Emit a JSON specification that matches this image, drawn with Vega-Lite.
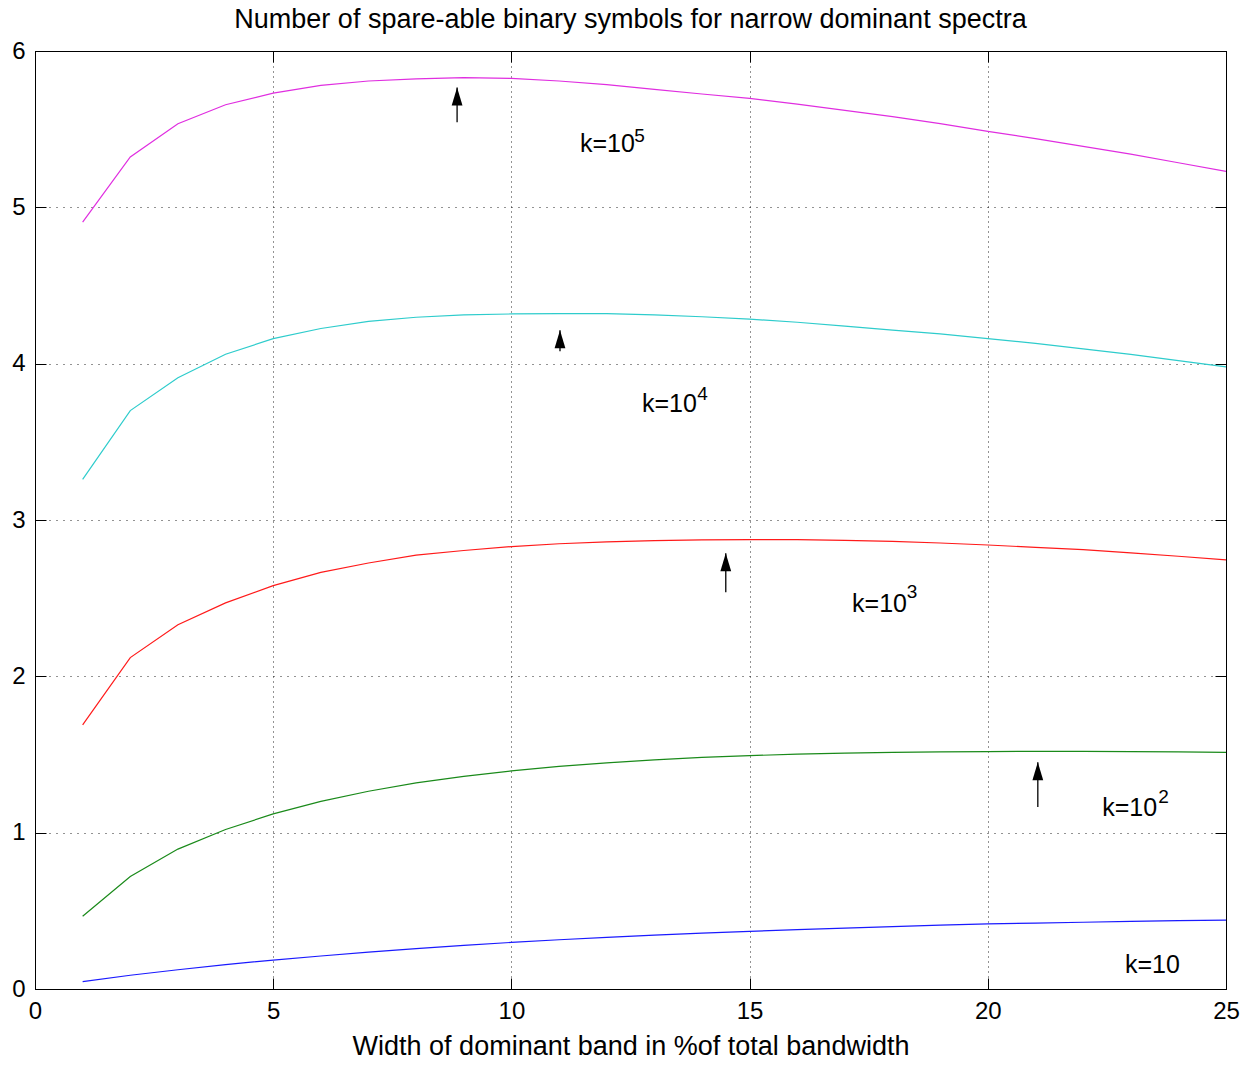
{
  "$schema": "https://vega.github.io/schema/vega-lite/v6.json",
  "width": 1191,
  "height": 938,
  "autosize": {"type": "none"},
  "padding": {"left": 35, "top": 51, "right": 23, "bottom": 76},
  "background": "white",
  "title": {
    "text": "Number of spare-able binary symbols for narrow dominant spectra",
    "font": "Liberation Sans",
    "fontSize": 27,
    "fontWeight": "normal",
    "color": "black",
    "anchor": "middle",
    "frame": "group",
    "baseline": "alphabetic",
    "offset": 0,
    "dy": 16
  },
  "config": {
    "view": {"stroke": "black", "strokeWidth": 1},
    "axis": {
      "labelFont": "Liberation Sans",
      "labelFontSize": 24,
      "labelColor": "black",
      "titleFont": "Liberation Sans",
      "titleFontSize": 27,
      "titleFontWeight": "normal",
      "titleColor": "black",
      "tickColor": "black",
      "domainColor": "black",
      "gridColor": "black",
      "gridOpacity": 0.85,
      "labelFlush": false,
      "labelOverlap": false
    }
  },
  "datasets": {
    "curves": [
      {"x": 1, "y": 4.906, "k": "k5"}, {"x": 2, "y": 5.322, "k": "k5"}, {"x": 3, "y": 5.535, "k": "k5"}, {"x": 4, "y": 5.656, "k": "k5"}, {"x": 5, "y": 5.731, "k": "k5"},
      {"x": 6, "y": 5.78, "k": "k5"}, {"x": 7, "y": 5.808, "k": "k5"}, {"x": 8, "y": 5.822, "k": "k5"}, {"x": 9, "y": 5.83, "k": "k5"}, {"x": 10, "y": 5.825, "k": "k5"},
      {"x": 11, "y": 5.808, "k": "k5"}, {"x": 12, "y": 5.785, "k": "k5"}, {"x": 13, "y": 5.755, "k": "k5"}, {"x": 14, "y": 5.725, "k": "k5"}, {"x": 15, "y": 5.697, "k": "k5"},
      {"x": 16, "y": 5.66, "k": "k5"}, {"x": 17, "y": 5.62, "k": "k5"}, {"x": 18, "y": 5.58, "k": "k5"}, {"x": 19, "y": 5.535, "k": "k5"}, {"x": 20, "y": 5.486, "k": "k5"},
      {"x": 21, "y": 5.44, "k": "k5"}, {"x": 22, "y": 5.39, "k": "k5"}, {"x": 23, "y": 5.34, "k": "k5"}, {"x": 24, "y": 5.285, "k": "k5"}, {"x": 25, "y": 5.23, "k": "k5"},

      {"x": 1, "y": 3.26, "k": "k4"}, {"x": 2, "y": 3.7, "k": "k4"}, {"x": 3, "y": 3.91, "k": "k4"}, {"x": 4, "y": 4.06, "k": "k4"}, {"x": 5, "y": 4.16, "k": "k4"},
      {"x": 6, "y": 4.225, "k": "k4"}, {"x": 7, "y": 4.27, "k": "k4"}, {"x": 8, "y": 4.297, "k": "k4"}, {"x": 9, "y": 4.312, "k": "k4"}, {"x": 10, "y": 4.318, "k": "k4"},
      {"x": 11, "y": 4.32, "k": "k4"}, {"x": 12, "y": 4.32, "k": "k4"}, {"x": 13, "y": 4.312, "k": "k4"}, {"x": 14, "y": 4.3, "k": "k4"}, {"x": 15, "y": 4.285, "k": "k4"},
      {"x": 16, "y": 4.265, "k": "k4"}, {"x": 17, "y": 4.24, "k": "k4"}, {"x": 18, "y": 4.215, "k": "k4"}, {"x": 19, "y": 4.19, "k": "k4"}, {"x": 20, "y": 4.16, "k": "k4"},
      {"x": 21, "y": 4.13, "k": "k4"}, {"x": 22, "y": 4.095, "k": "k4"}, {"x": 23, "y": 4.06, "k": "k4"}, {"x": 24, "y": 4.02, "k": "k4"}, {"x": 25, "y": 3.98, "k": "k4"},

      {"x": 1, "y": 1.69, "k": "k3"}, {"x": 2, "y": 2.12, "k": "k3"}, {"x": 3, "y": 2.33, "k": "k3"}, {"x": 4, "y": 2.47, "k": "k3"}, {"x": 5, "y": 2.58, "k": "k3"},
      {"x": 6, "y": 2.665, "k": "k3"}, {"x": 7, "y": 2.725, "k": "k3"}, {"x": 8, "y": 2.775, "k": "k3"}, {"x": 9, "y": 2.805, "k": "k3"}, {"x": 10, "y": 2.83, "k": "k3"},
      {"x": 11, "y": 2.848, "k": "k3"}, {"x": 12, "y": 2.86, "k": "k3"}, {"x": 13, "y": 2.868, "k": "k3"}, {"x": 14, "y": 2.873, "k": "k3"}, {"x": 15, "y": 2.875, "k": "k3"},
      {"x": 16, "y": 2.874, "k": "k3"}, {"x": 17, "y": 2.87, "k": "k3"}, {"x": 18, "y": 2.863, "k": "k3"}, {"x": 19, "y": 2.853, "k": "k3"}, {"x": 20, "y": 2.84, "k": "k3"},
      {"x": 21, "y": 2.825, "k": "k3"}, {"x": 22, "y": 2.81, "k": "k3"}, {"x": 23, "y": 2.79, "k": "k3"}, {"x": 24, "y": 2.768, "k": "k3"}, {"x": 25, "y": 2.745, "k": "k3"},

      {"x": 1, "y": 0.465, "k": "k2"}, {"x": 2, "y": 0.72, "k": "k2"}, {"x": 3, "y": 0.895, "k": "k2"}, {"x": 4, "y": 1.02, "k": "k2"}, {"x": 5, "y": 1.12, "k": "k2"},
      {"x": 6, "y": 1.2, "k": "k2"}, {"x": 7, "y": 1.265, "k": "k2"}, {"x": 8, "y": 1.318, "k": "k2"}, {"x": 9, "y": 1.36, "k": "k2"}, {"x": 10, "y": 1.395, "k": "k2"},
      {"x": 11, "y": 1.424, "k": "k2"}, {"x": 12, "y": 1.447, "k": "k2"}, {"x": 13, "y": 1.466, "k": "k2"}, {"x": 14, "y": 1.481, "k": "k2"}, {"x": 15, "y": 1.493, "k": "k2"},
      {"x": 16, "y": 1.502, "k": "k2"}, {"x": 17, "y": 1.509, "k": "k2"}, {"x": 18, "y": 1.514, "k": "k2"}, {"x": 19, "y": 1.517, "k": "k2"}, {"x": 20, "y": 1.519, "k": "k2"},
      {"x": 21, "y": 1.52, "k": "k2"}, {"x": 22, "y": 1.52, "k": "k2"}, {"x": 23, "y": 1.519, "k": "k2"}, {"x": 24, "y": 1.517, "k": "k2"}, {"x": 25, "y": 1.514, "k": "k2"},

      {"x": 1, "y": 0.047, "k": "k1"}, {"x": 2, "y": 0.088, "k": "k1"}, {"x": 3, "y": 0.123, "k": "k1"}, {"x": 4, "y": 0.156, "k": "k1"}, {"x": 5, "y": 0.185, "k": "k1"},
      {"x": 6, "y": 0.211, "k": "k1"}, {"x": 7, "y": 0.236, "k": "k1"}, {"x": 8, "y": 0.258, "k": "k1"}, {"x": 9, "y": 0.279, "k": "k1"}, {"x": 10, "y": 0.298, "k": "k1"},
      {"x": 11, "y": 0.315, "k": "k1"}, {"x": 12, "y": 0.33, "k": "k1"}, {"x": 13, "y": 0.344, "k": "k1"}, {"x": 14, "y": 0.357, "k": "k1"}, {"x": 15, "y": 0.369, "k": "k1"},
      {"x": 16, "y": 0.38, "k": "k1"}, {"x": 17, "y": 0.39, "k": "k1"}, {"x": 18, "y": 0.399, "k": "k1"}, {"x": 19, "y": 0.408, "k": "k1"}, {"x": 20, "y": 0.416, "k": "k1"},
      {"x": 21, "y": 0.422, "k": "k1"}, {"x": 22, "y": 0.427, "k": "k1"}, {"x": 23, "y": 0.432, "k": "k1"}, {"x": 24, "y": 0.437, "k": "k1"}, {"x": 25, "y": 0.441, "k": "k1"}
    ],
    "arrows": [
      {"x": 8.86, "y": 5.544, "y2": 5.767},
      {"x": 11.02, "y": 4.079, "y2": 4.214},
      {"x": 14.5, "y": 2.538, "y2": 2.788},
      {"x": 21.05, "y": 1.164, "y2": 1.451}
    ],
    "labels": [
      {"x": 11.44, "y": 5.352, "text": "k=10"},
      {"x": 12.74, "y": 3.689, "text": "k=10"},
      {"x": 17.15, "y": 2.41, "text": "k=10"},
      {"x": 22.4, "y": 1.106, "text": "k=10"},
      {"x": 22.88, "y": 0.102, "text": "k=10"}
    ],
    "sups": [
      {"x": 12.58, "y": 5.416, "text": "5"},
      {"x": 13.9, "y": 3.766, "text": "4"},
      {"x": 18.3, "y": 2.5, "text": "3"},
      {"x": 23.58, "y": 1.189, "text": "2"}
    ]
  },
  "layer": [
    {
      "data": {"name": "curves"},
      "mark": {"type": "line", "strokeWidth": 1.2, "interpolate": "linear"},
      "encoding": {
        "x": {
          "field": "x", "type": "quantitative",
          "scale": {"domain": [0, 25], "nice": false, "zero": false},
          "axis": {
            "title": "Width of dominant band in %of total bandwidth",
            "values": [0, 5, 10, 15, 20, 25],
            "tickSize": -11,
            "labelPadding": 21,
            "titlePadding": 10,
            "grid": true,
            "gridDash": [1, 4]
          }
        },
        "y": {
          "field": "y", "type": "quantitative",
          "scale": {"domain": [0, 6], "nice": false, "zero": false},
          "axis": {
            "title": null,
            "values": [0, 1, 2, 3, 4, 5, 6],
            "tickSize": -11,
            "labelPadding": 21,
            "grid": true,
            "gridDash": [1, 6]
          }
        },
        "color": {
          "field": "k", "type": "nominal",
          "scale": {"domain": ["k5", "k4", "k3", "k2", "k1"], "range": ["#e02ee0", "#2ecccc", "#ff1a1a", "#1a8a1a", "#1a1aff"]},
          "legend": null
        },
        "detail": {"field": "k"}
      }
    },
    {
      "data": {"name": "arrows"},
      "mark": {"type": "rule", "color": "black", "strokeWidth": 1.3},
      "encoding": {
        "x": {"field": "x", "type": "quantitative", "scale": {"domain": [0, 25], "nice": false, "zero": false}, "axis": null},
        "y": {"field": "y", "type": "quantitative", "scale": {"domain": [0, 6], "nice": false, "zero": false}, "axis": null},
        "y2": {"field": "y2"}
      }
    },
    {
      "data": {"name": "arrows"},
      "mark": {"type": "point", "shape": "M0,-1L0.6,1L-0.6,1Z", "filled": true, "color": "black", "opacity": 1, "size": 324, "yOffset": 9},
      "encoding": {
        "x": {"field": "x", "type": "quantitative", "scale": {"domain": [0, 25], "nice": false, "zero": false}, "axis": null},
        "y": {"field": "y2", "type": "quantitative", "scale": {"domain": [0, 6], "nice": false, "zero": false}, "axis": null}
      }
    },
    {
      "data": {"name": "labels"},
      "mark": {"type": "text", "font": "Liberation Sans", "fontSize": 25, "align": "left", "baseline": "alphabetic", "color": "black"},
      "encoding": {
        "x": {"field": "x", "type": "quantitative", "scale": {"domain": [0, 25], "nice": false, "zero": false}, "axis": null},
        "y": {"field": "y", "type": "quantitative", "scale": {"domain": [0, 6], "nice": false, "zero": false}, "axis": null},
        "text": {"field": "text"}
      }
    },
    {
      "data": {"name": "sups"},
      "mark": {"type": "text", "font": "Liberation Sans", "fontSize": 19, "align": "left", "baseline": "alphabetic", "color": "black"},
      "encoding": {
        "x": {"field": "x", "type": "quantitative", "scale": {"domain": [0, 25], "nice": false, "zero": false}, "axis": null},
        "y": {"field": "y", "type": "quantitative", "scale": {"domain": [0, 6], "nice": false, "zero": false}, "axis": null},
        "text": {"field": "text"}
      }
    },
    {
      "data": {"name": "arrows"},
      "mark": {"type": "point", "opacity": 0},
      "encoding": {
        "x": {
          "field": "x", "type": "quantitative",
          "scale": {"domain": [0, 25], "nice": false, "zero": false},
          "axis": {"orient": "top", "values": [0, 5, 10, 15, 20, 25], "labels": false, "title": null, "tickSize": -11, "grid": false, "domain": true}
        },
        "y": {
          "field": "y", "type": "quantitative",
          "scale": {"domain": [0, 6], "nice": false, "zero": false},
          "axis": {"orient": "right", "values": [0, 1, 2, 3, 4, 5, 6], "labels": false, "title": null, "tickSize": -11, "grid": false, "domain": true}
        }
      }
    }
  ],
  "resolve": {"scale": {"x": "independent", "y": "independent"}}
}
